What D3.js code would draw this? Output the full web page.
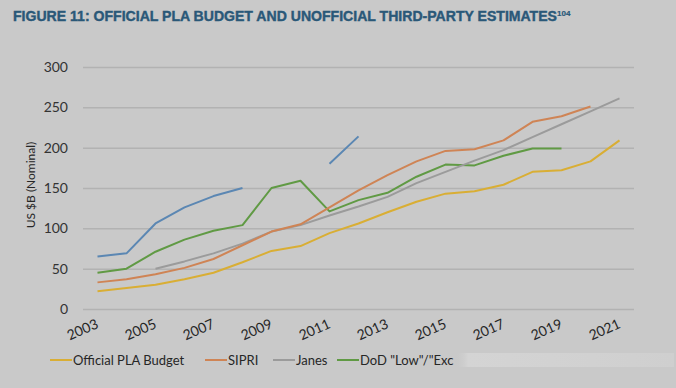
<!DOCTYPE html>
<html>
<head>
<meta charset="utf-8">
<script src="https://cdn.jsdelivr.net/npm/d3@7"></script>
<style>
  html, body { margin: 0; padding: 0; background: #c9c9c9; }
  svg { display: block; }
</style>
</head>
<body>
<script>
// Data (US $B, nominal)
var years = [2003, 2004, 2005, 2006, 2007, 2008, 2009, 2010, 2011, 2012,
             2013, 2014, 2015, 2016, 2017, 2018, 2019, 2020, 2021];
var yTicks = [0, 50, 100, 150, 200, 250, 300];
var xTickYears = [2003, 2005, 2007, 2009, 2011, 2013, 2015, 2017, 2019, 2021];

var official = [22, 26, 30, 37, 45, 58, 72, 78, 94, 106, 120, 133, 143, 146, 154, 170, 172, 183, 209];
var sipri = [33, 37, 43, 51, 62, 79, 96, 105, 126, 147, 166, 183, 196, 198, 209, 232, 239, 251, null];
var janes = [null, null, 50, 59, 69, 81, 96, 104, 116, 127, 139, 156, 170, 184, 197, 213, 229, 245, 261];
var dodLow = [45, 50, 71, 86, 97, 104, 150, 159, 121, 135, 144, 164, 179, 178, 190, 199, 199, null, null];
var dodHigh = [65, 69, 106, 126, 140, 150, null, null, 180, 214, null, null, null, null, null, null, null, null, null];

var seriesNames = ["Official PLA Budget", "SIPRI", "Janes", "DoD \"Low\"/\"Exc", "DoD High"];
var seriesColors = ["#d9ae34", "#cf8455", "#9b9b9b", "#609a44", "#5b87b3"];

var svgWidth = 676, svgHeight = 388;
var margin = { top: 67, right: 42, bottom: 79, left: 83 };
var width = svgWidth - margin.left - margin.right;
var height = svgHeight - margin.top - margin.bottom;

var svg = d3.select("body").append("svg")
  .attr("width", svgWidth)
  .attr("height", svgHeight);

svg.append("rect")
  .attr("width", svgWidth)
  .attr("height", svgHeight)
  .attr("fill", "#c9c9c9");

// title
var title = svg.append("text")
  .attr("x", 13)
  .attr("y", 21)
  .attr("font-family", "Liberation Sans Narrow, Liberation Sans, sans-serif")
  .attr("font-weight", "bold")
  .attr("font-size", 14)
  .attr("fill", "#2a5878")
  .attr("stroke", "#2a5878")
  .attr("stroke-width", 0.4);
title.append("tspan")
  .attr("textLength", 544)
  .attr("lengthAdjust", "spacingAndGlyphs")
  .text("FIGURE 11: OFFICIAL PLA BUDGET AND UNOFFICIAL THIRD-PARTY ESTIMATES");
title.append("tspan")
  .attr("font-size", 8)
  .attr("stroke-width", 0.2)
  .attr("dy", -5)
  .text("104");

var chartGroup = svg.append("g")
  .attr("transform", `translate(${margin.left}, ${margin.top})`);

var xScale = d3.scalePoint()
  .domain(years)
  .range([0, width])
  .padding(0.5);

var yScale = d3.scaleLinear()
  .domain([0, 300])
  .range([height, 0]);

// gridlines + y labels
var leftAxis = d3.axisLeft(yScale)
  .tickValues(yTicks)
  .tickSize(-width)
  .tickPadding(15);

var yAxisG = chartGroup.append("g").call(leftAxis);
yAxisG.select(".domain").remove();
yAxisG.selectAll(".tick line")
  .attr("stroke", "#b2b2b2")
  .attr("stroke-width", 1.5);
yAxisG.selectAll(".tick text")
  .attr("font-family", "Lato, sans-serif")
  .attr("font-size", 14)
  .attr("fill", "#333");

// x labels (slanted)
chartGroup.selectAll(".xlab")
  .data(xTickYears)
  .enter()
  .append("text")
  .attr("class", "xlab")
  .attr("transform", d => `translate(${xScale(d) - 13}, ${height + 25}) rotate(-24)`)
  .attr("text-anchor", "middle")
  .attr("font-family", "Lato, sans-serif")
  .attr("font-size", 14)
  .attr("fill", "#262626")
  .text(d => d);

// y axis title
chartGroup.append("text")
  .attr("transform", `translate(${31 - margin.left}, ${height / 2 - 3}) rotate(-90)`)
  .attr("text-anchor", "middle")
  .attr("dy", "0.35em")
  .attr("font-family", "Lato, sans-serif")
  .attr("font-size", 12)
  .attr("fill", "#262626")
  .text("US $B (Nominal)");

// lines
var line = d3.line()
  .defined(d => d.v !== null)
  .x(d => xScale(d.year))
  .y(d => yScale(d.v));

var allSeries = [official, sipri, janes, dodLow, dodHigh];
var drawOrder = [4, 3, 2, 1, 0];
drawOrder.forEach(function(i) {
  var pts = years.map((y, j) => ({ year: y, v: allSeries[i][j] }));
  chartGroup.append("path")
    .datum(pts)
    .attr("fill", "none")
    .attr("stroke", seriesColors[i])
    .attr("stroke-width", 2)
    .attr("stroke-linejoin", "round")
    .attr("d", line);
});

// legend
var legendX = [50, 205, 273, 337];
var legend = svg.append("g");
[0, 1, 2, 3].forEach(function(i) {
  legend.append("line")
    .attr("x1", legendX[i])
    .attr("x2", legendX[i] + 22)
    .attr("y1", 360)
    .attr("y2", 360)
    .attr("stroke", seriesColors[i])
    .attr("stroke-width", 2);
  legend.append("text")
    .attr("x", legendX[i] + 23)
    .attr("y", 360)
    .attr("dy", "0.35em")
    .attr("font-family", "Lato, sans-serif")
    .attr("font-size", 13)
    .attr("fill", "#262626")
    .text(seriesNames[i]);
});

// blurred-out remainder of the legend
var defs = svg.append("defs");
var grad = defs.append("linearGradient")
  .attr("id", "fade")
  .attr("x1", "0%").attr("x2", "100%");
grad.append("stop").attr("offset", "0%").attr("stop-color", "#c9c9c9").attr("stop-opacity", 0);
grad.append("stop").attr("offset", "6%").attr("stop-color", "#d4d4d4").attr("stop-opacity", 1);
grad.append("stop").attr("offset", "100%").attr("stop-color", "#cfcfcf").attr("stop-opacity", 1);
svg.append("rect")
  .attr("x", 455)
  .attr("y", 353)
  .attr("width", 219)
  .attr("height", 14)
  .attr("fill", "url(#fade)");
</script>
</body>
</html>
